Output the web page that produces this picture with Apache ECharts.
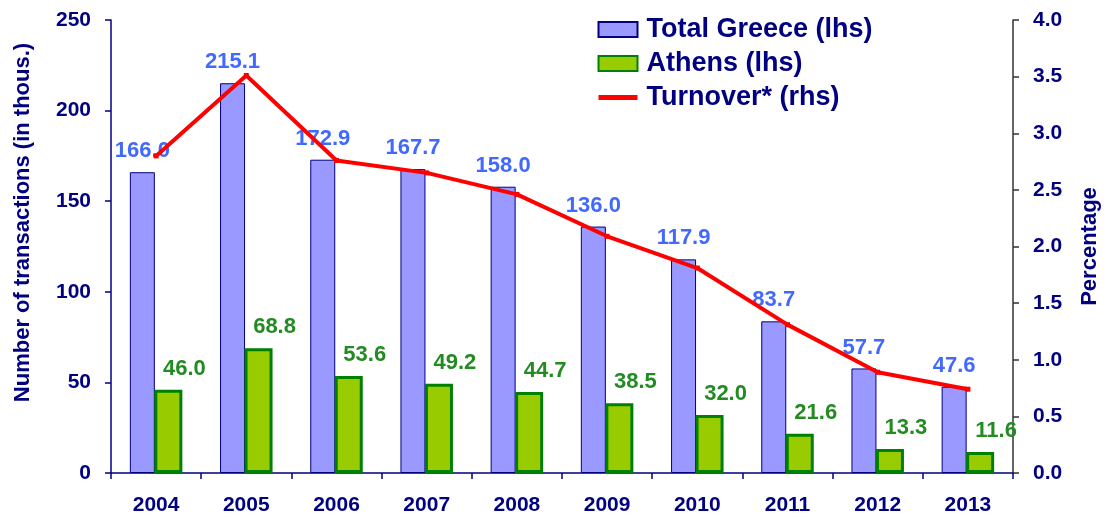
<!DOCTYPE html>
<html>
<head>
<meta charset="utf-8">
<script src="https://cdn.jsdelivr.net/npm/echarts@6/dist/echarts.min.js"></script>
<style>
  html, body { margin: 0; padding: 0; background: #fff; }
  #chart { width: 1109px; height: 518px; }
</style>
</head>
<body>
<div id="chart"></div>
<script>
// 数据
const years = ['2004', '2005', '2006', '2007', '2008', '2009', '2010', '2011', '2012', '2013'];
const totalGreece = [166.0, 215.1, 172.9, 167.7, 158.0, 136.0, 117.9, 83.7, 57.7, 47.6];
const athens = [46.0, 68.8, 53.6, 49.2, 44.7, 38.5, 32.0, 21.6, 13.3, 11.6];
const turnover = [2.8, 3.51, 2.76, 2.65, 2.46, 2.09, 1.81, 1.31, 0.89, 0.74];

const NAVY = '#000080';
const FONT = '"Liberation Sans", Arial, sans-serif';

const chart = echarts.init(document.getElementById('chart'));
chart.setOption({
  animation: false,
  textStyle: { fontFamily: FONT },
  grid: { left: 111, right: 96, top: 20, bottom: 45 },
  legend: {
    orient: 'vertical',
    left: 591,
    top: 11,
    itemGap: 7,
    itemWidth: 39,
    itemHeight: 15,
    textStyle: { fontSize: 27, fontWeight: 'bold', color: NAVY, fontFamily: FONT, padding: [0, 0, 0, 4] },
    data: [
      { name: 'Total Greece (lhs)', icon: 'rect' },
      { name: 'Athens (lhs)', icon: 'rect' },
      { name: 'Turnover* (rhs)', itemStyle: { opacity: 0 }, lineStyle: { width: 5 } }
    ]
  },
  xAxis: {
    type: 'category',
    data: years,
    axisLine: { lineStyle: { color: NAVY, width: 1.5 } },
    axisTick: { show: true, length: 6, lineStyle: { color: NAVY, width: 1.5 } },
    axisLabel: { fontSize: 21, fontWeight: 'bold', color: NAVY, margin: 22, fontFamily: FONT }
  },
  yAxis: [
    {
      type: 'value',
      min: 0, max: 250, interval: 50,
      name: 'Number of transactions (in thous.)',
      nameLocation: 'middle',
      nameGap: 77,
      nameTextStyle: { fontSize: 22, fontWeight: 'bold', color: NAVY, fontFamily: FONT, padding: [0, 0, 0, 48] },
      axisLine: { show: true, lineStyle: { color: NAVY, width: 1.5 } },
      axisTick: { show: true, length: 6, lineStyle: { color: NAVY, width: 1.5 } },
      axisLabel: { fontSize: 21, fontWeight: 'bold', color: NAVY, margin: 20, fontFamily: FONT },
      splitLine: { show: false }
    },
    {
      type: 'value',
      min: 0, max: 4, interval: 0.5,
      name: 'Percentage',
      nameLocation: 'middle',
      nameGap: 66,
      nameRotate: 90,
      nameTextStyle: { fontSize: 22, fontWeight: 'bold', color: NAVY, fontFamily: FONT },
      axisLine: { show: true, lineStyle: { color: '#333', width: 1.5 } },
      axisTick: { show: true, length: 6, lineStyle: { color: '#333', width: 1.5 } },
      axisLabel: { fontSize: 21, fontWeight: 'bold', color: NAVY, margin: 20, fontFamily: FONT,
        formatter: v => v.toFixed(1) },
      splitLine: { show: false }
    }
  ],
  series: [
    {
      name: 'Total Greece (lhs)',
      type: 'bar',
      data: totalGreece,
      barWidth: 25,
      barGap: '-2%',
      itemStyle: { color: '#9999ff', borderColor: NAVY, borderWidth: 1 },
      label: {
        show: true, position: 'top', distance: 10,
        color: '#4169ff', fontSize: 22, fontWeight: 'bold', fontFamily: FONT,
        formatter: p => p.value.toFixed(1)
      }
    },
    {
      name: 'Athens (lhs)',
      type: 'bar',
      data: athens,
      barWidth: 28,
      itemStyle: { color: '#99cc00', borderColor: '#008000', borderWidth: 3 },
      label: {
        show: true, position: 'top', distance: 10, offset: [16, 0],
        color: '#228B22', fontSize: 22, fontWeight: 'bold', fontFamily: FONT,
        formatter: p => p.value.toFixed(1)
      }
    },
    {
      name: 'Turnover* (rhs)',
      type: 'line',
      yAxisIndex: 1,
      data: turnover,
      symbol: 'rect',
      symbolSize: 5,
      z: 5,
      lineStyle: { color: '#ff0000', width: 4 },
      itemStyle: { color: '#ff0000' }
    }
  ]
});
</script>
</body>
</html>
